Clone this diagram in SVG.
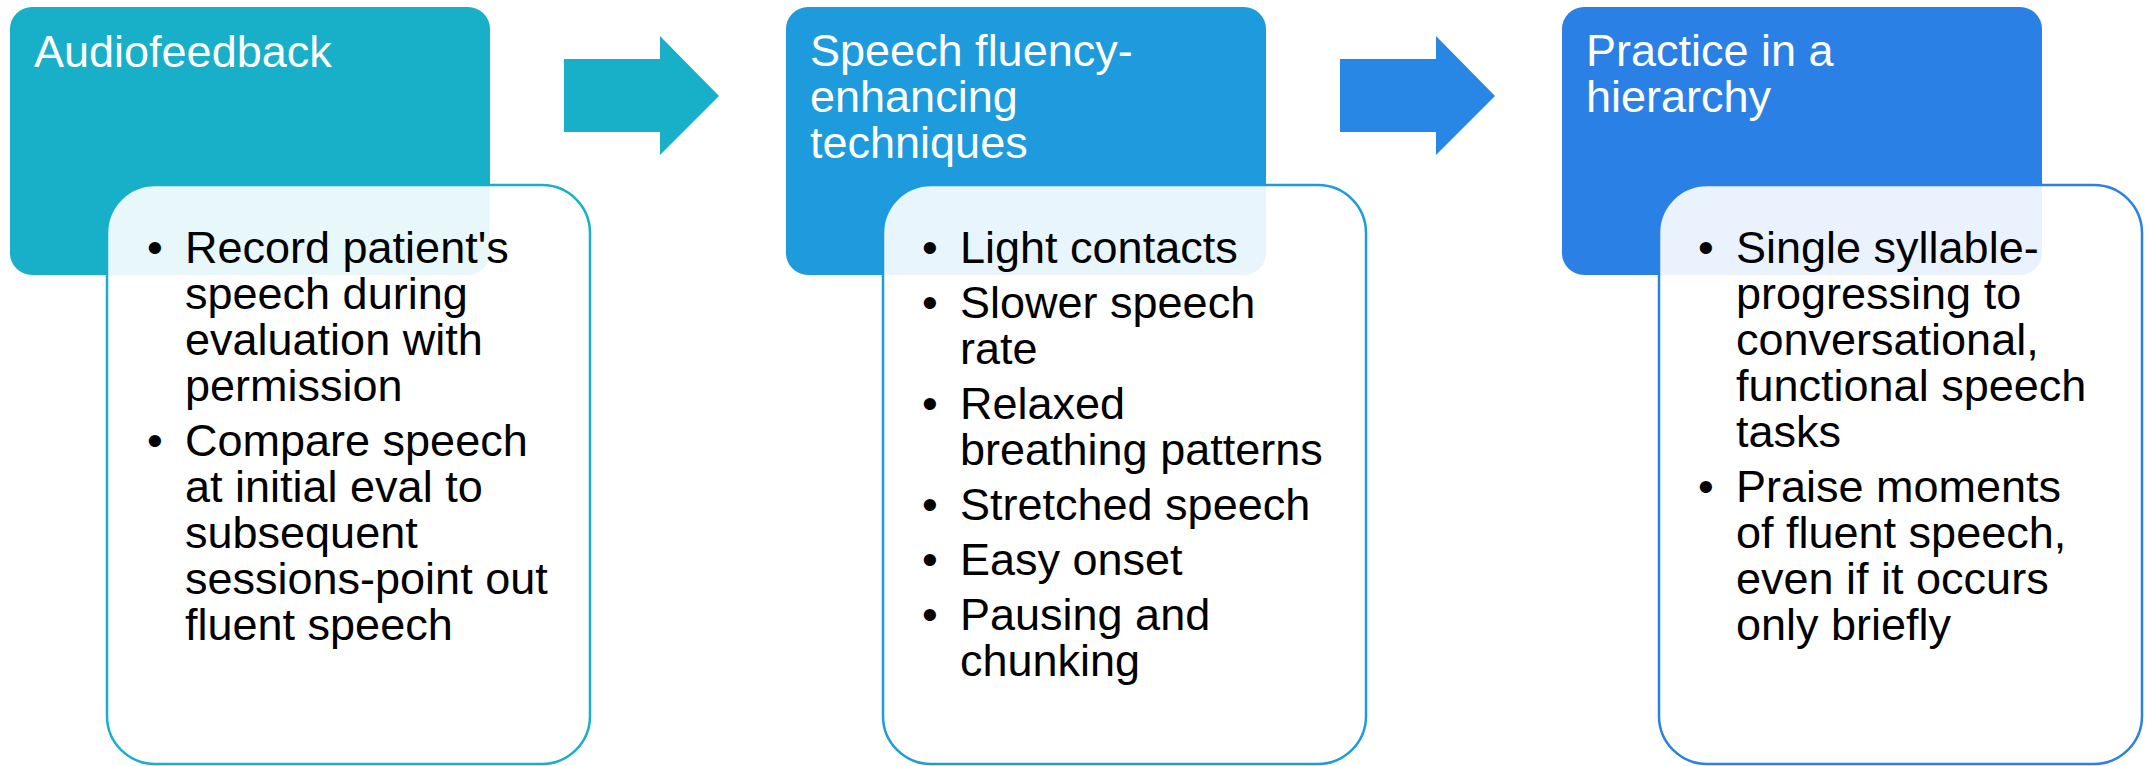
<svg xmlns="http://www.w3.org/2000/svg" width="2148" height="766" viewBox="0 0 2148 766">
  <style>
    .head { font-family: "Liberation Sans", Arial, sans-serif; font-size: 45px; fill: #ffffff; }
    .item { font-family: "Liberation Sans", Arial, sans-serif; font-size: 45px; fill: #000000; }
    .card { fill: #ffffff; fill-opacity: 0.9; stroke-width: 2.5; }
  </style>
  <rect width="2148" height="766" fill="#ffffff"/>

  <!-- flow arrows between steps -->
  <g id="connectors">
    <polygon points="564,59 660,59 660,36 719,96 660,155 660,132 564,132" fill="#18AFC8"/>
    <polygon points="1340,59 1436,59 1436,36 1495,96 1436,155 1436,132 1340,132" fill="#2886E5"/>
  </g>

  <!-- step 1 -->
  <g id="step-audiofeedback">
    <rect x="10" y="7" width="480" height="268" rx="22" fill="#18AFC8"/>
    <text class="head" x="34" y="67">Audiofeedback</text>
    <rect class="card" x="107" y="185" width="483" height="579" rx="48" stroke="#18AFC8"/>
    <g class="item">
      <text x="147" y="263">•</text>
      <text x="185" y="263">Record patient's</text>
      <text x="185" y="309">speech during</text>
      <text x="185" y="355">evaluation with</text>
      <text x="185" y="401">permission</text>
      <text x="147" y="456">•</text>
      <text x="185" y="456">Compare speech</text>
      <text x="185" y="502">at initial eval to</text>
      <text x="185" y="548">subsequent</text>
      <text x="185" y="594">sessions-point out</text>
      <text x="185" y="640">fluent speech</text>
    </g>
  </g>

  <!-- step 2 -->
  <g id="step-techniques">
    <rect x="786" y="7" width="480" height="268" rx="22" fill="#1D9BDC"/>
    <text class="head" x="810" y="66">Speech fluency-</text>
    <text class="head" x="810" y="112">enhancing</text>
    <text class="head" x="810" y="158">techniques</text>
    <rect class="card" x="883" y="185" width="483" height="579" rx="48" stroke="#1D9BDC"/>
    <g class="item">
      <text x="922" y="263">•</text>
      <text x="960" y="263">Light contacts</text>
      <text x="922" y="318">•</text>
      <text x="960" y="318">Slower speech</text>
      <text x="960" y="364">rate</text>
      <text x="922" y="419">•</text>
      <text x="960" y="419">Relaxed</text>
      <text x="960" y="465">breathing patterns</text>
      <text x="922" y="520">•</text>
      <text x="960" y="520">Stretched speech</text>
      <text x="922" y="575">•</text>
      <text x="960" y="575">Easy onset</text>
      <text x="922" y="630">•</text>
      <text x="960" y="630">Pausing and</text>
      <text x="960" y="676">chunking</text>
    </g>
  </g>

  <!-- step 3 -->
  <g id="step-hierarchy">
    <rect x="1562" y="7" width="480" height="268" rx="22" fill="#2B80E6"/>
    <text class="head" x="1586" y="66">Practice in a</text>
    <text class="head" x="1586" y="112">hierarchy</text>
    <rect class="card" x="1659" y="185" width="483" height="579" rx="48" stroke="#2B80E6"/>
    <g class="item">
      <text x="1698" y="263">•</text>
      <text x="1736" y="263">Single syllable-</text>
      <text x="1736" y="309">progressing to</text>
      <text x="1736" y="355">conversational,</text>
      <text x="1736" y="401">functional speech</text>
      <text x="1736" y="447">tasks</text>
      <text x="1698" y="502">•</text>
      <text x="1736" y="502">Praise moments</text>
      <text x="1736" y="548">of fluent speech,</text>
      <text x="1736" y="594">even if it occurs</text>
      <text x="1736" y="640">only briefly</text>
    </g>
  </g>
</svg>
